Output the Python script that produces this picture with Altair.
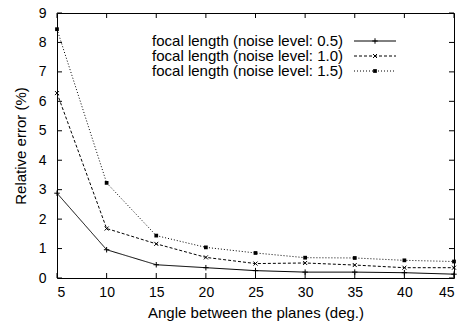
import altair as alt
import pandas as pd

angles = [5, 10, 15, 20, 25, 30, 35, 40, 45]
series_names = [
    "focal length (noise level: 0.5)",
    "focal length (noise level: 1.0)",
    "focal length (noise level: 1.5)",
]
err_05 = [2.88, 0.96, 0.45, 0.35, 0.25, 0.20, 0.20, 0.18, 0.13]
err_10 = [6.28, 1.68, 1.16, 0.70, 0.49, 0.51, 0.44, 0.35, 0.35]
err_15 = [8.45, 3.23, 1.44, 1.04, 0.85, 0.69, 0.68, 0.60, 0.56]
x_ticks = [5, 10, 15, 20, 25, 30, 35, 40, 45]
y_ticks = [0, 1, 2, 3, 4, 5, 6, 7, 8, 9]

FONT = "Liberation Sans"
FS = 15
W, H = 397, 265

PLUS = "M-1,0L1,0M0,-1L0,1"
XSHAPE = "M-1,-1L1,1M-1,1L1,-1"
styles = [
    dict(dash=[1, 0], shape=PLUS, filled=False, size=30),
    dict(dash=[3, 2], shape=XSHAPE, filled=False, size=16),
    dict(dash=[1, 2], shape="square", filled=True, size=14),
]
values = [err_05, err_10, err_15]

xscale = alt.Scale(domain=[5, 45], nice=False, zero=False)
yscale = alt.Scale(domain=[0, 9], nice=False, zero=False)

x_axis = alt.Axis(values=x_ticks, title="Angle between the planes (deg.)",
                  grid=False, domain=False, ticks=False, labelPadding=7,
                  labelOverlap=False, titlePadding=6)
y_axis = alt.Axis(values=y_ticks, title="Relative error (%)",
                  grid=False, domain=False, ticks=False, labelPadding=11,
                  labelOverlap=False, titlePadding=10)


def X(field):
    return alt.X(field, scale=xscale, axis=x_axis, title="Angle between the planes (deg.)")


def Y(field):
    return alt.Y(field, scale=yscale, axis=y_axis, title="Relative error (%)")


layers = []
for i, (name, vals) in enumerate(zip(series_names, values)):
    df = pd.DataFrame({"angle": angles, "err": vals, "series": name})
    st = styles[i]
    base = alt.Chart(df)
    line = base.mark_line(color="black", strokeWidth=1, strokeDash=st["dash"]).encode(
        x=X("angle:Q"), y=Y("err:Q"),
    )
    pts = base.mark_point(color="black", shape=st["shape"], filled=st["filled"],
                          size=st["size"], strokeWidth=1, opacity=1).encode(
        x=X("angle:Q"), y=Y("err:Q"),
    )
    layers += [line, pts]

# inward ticks on all four sides (gnuplot style)
xt = alt.Chart(pd.DataFrame({"angle": x_ticks}))
yt = alt.Chart(pd.DataFrame({"err": y_ticks}))
layers.append(xt.mark_rule(color="black", strokeWidth=1).encode(
    x=X("angle:Q"), y=alt.value(H), y2=alt.value(H - 5)))
layers.append(xt.mark_rule(color="black", strokeWidth=1).encode(
    x=X("angle:Q"), y=alt.value(0), y2=alt.value(5)))
layers.append(yt.mark_rule(color="black", strokeWidth=1).encode(
    y=Y("err:Q"), x=alt.value(0), x2=alt.value(5)))
layers.append(yt.mark_rule(color="black", strokeWidth=1).encode(
    y=Y("err:Q"), x=alt.value(W), x2=alt.value(W - 5)))

# manual gnuplot-style legend (text left, sample right)
row_y = [28, 43, 58]
for i, name in enumerate(series_names):
    st = styles[i]
    one = alt.Chart(pd.DataFrame({"label": [name]}))
    layers.append(one.mark_text(align="right", baseline="middle", font=FONT,
                                fontSize=FS, color="black").encode(
        text="label:N", x=alt.value(286), y=alt.value(row_y[i])))
    layers.append(one.mark_rule(color="black", strokeWidth=1, strokeDash=st["dash"]).encode(
        x=alt.value(297), x2=alt.value(339), y=alt.value(row_y[i])))
    layers.append(one.mark_point(color="black", shape=st["shape"], filled=st["filled"],
                                 size=st["size"], strokeWidth=1, opacity=1).encode(
        x=alt.value(318), y=alt.value(row_y[i])))

chart = alt.layer(*layers).properties(
    width=W, height=H,
    autosize=alt.AutoSizeParams(type="none"),
    padding={"left": 49, "top": 5, "right": 4, "bottom": 43},
    background="white",
).configure_view(stroke="black", strokeWidth=1).configure_axis(
    labelFont=FONT, labelFontSize=14, labelColor="black",
    titleFont=FONT, titleFontSize=FS, titleColor="black", titleFontWeight="normal",
)

chart.save("out.html", embed_options={"renderer": "svg", "actions": False})
